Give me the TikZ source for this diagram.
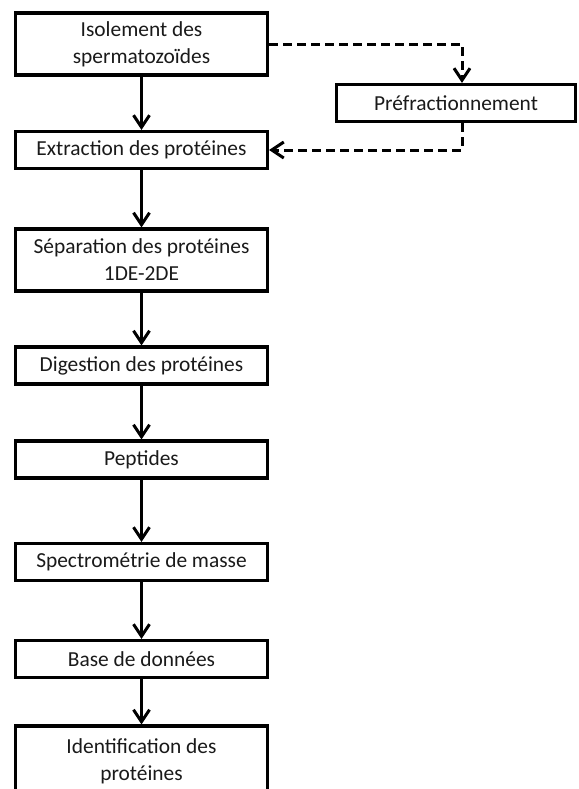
\documentclass[tikz,border=0pt]{standalone}
\usepackage{fontspec}
\setmainfont{Carlito}
\usetikzlibrary{arrows.meta}
\definecolor{flowink}{HTML}{000000}
\definecolor{flowtext}{HTML}{1A1A1A}
\tikzset{
  bx/.style={draw=flowink, line width=1.6pt, fill=white, align=center, text=flowtext,
    font=\fontsize{10.7}{13.5}\selectfont, inner sep=0pt, minimum width=126pt},
  one/.style={bx, minimum height=18.5pt},
  two/.style={bx, minimum height=31pt},
  arr/.style={-{Straight Barb[length=6pt, width=8pt, line width=1.5pt]}, line width=1.5pt, color=flowink},
  darr/.style={arr, dash pattern=on 4.5pt off 2.5pt},
}
\begin{document}
\begin{tikzpicture}[x=0.5pt, y=-0.5pt]
  \useasboundingbox (0,0) rectangle (579,789);
  \clip (0,0) rectangle (579,789);
  % main column
  \node[two] (iso)   at (141.5,44)  {Isolement des\\spermatozoïdes};
  \node[one] (extr)  at (141.5,150) {Extraction des protéines};
  \node[two] (sep)   at (141.5,260) {Séparation des protéines\\1DE-2DE};
  \node[one] (dig)   at (141.5,365.5) {Digestion des protéines};
  \node[one] (pep)   at (141.5,459.5) {Peptides};
  \node[one] (spec)  at (141.5,562) {Spectrométrie de masse};
  \node[one] (base)  at (141.5,659) {Base de données};
  \node[two, minimum height=35pt] (ident) at (141.5,761) {Identification des\\protéines};
  % side step
  \node[one, minimum width=119.5pt] (pref) at (456,103) {Préfractionnement};
  \foreach \a/\b in {iso/extr, extr/sep, sep/dig, dig/pep, pep/spec, spec/base, base/ident}
    \draw[arr] (\a) -- (\b);
  \draw[darr] (iso.east) -| ([xshift=3pt]pref.north);
  \draw[darr] ([xshift=3pt]pref.south) |- (extr.east);
\end{tikzpicture}
\end{document}
